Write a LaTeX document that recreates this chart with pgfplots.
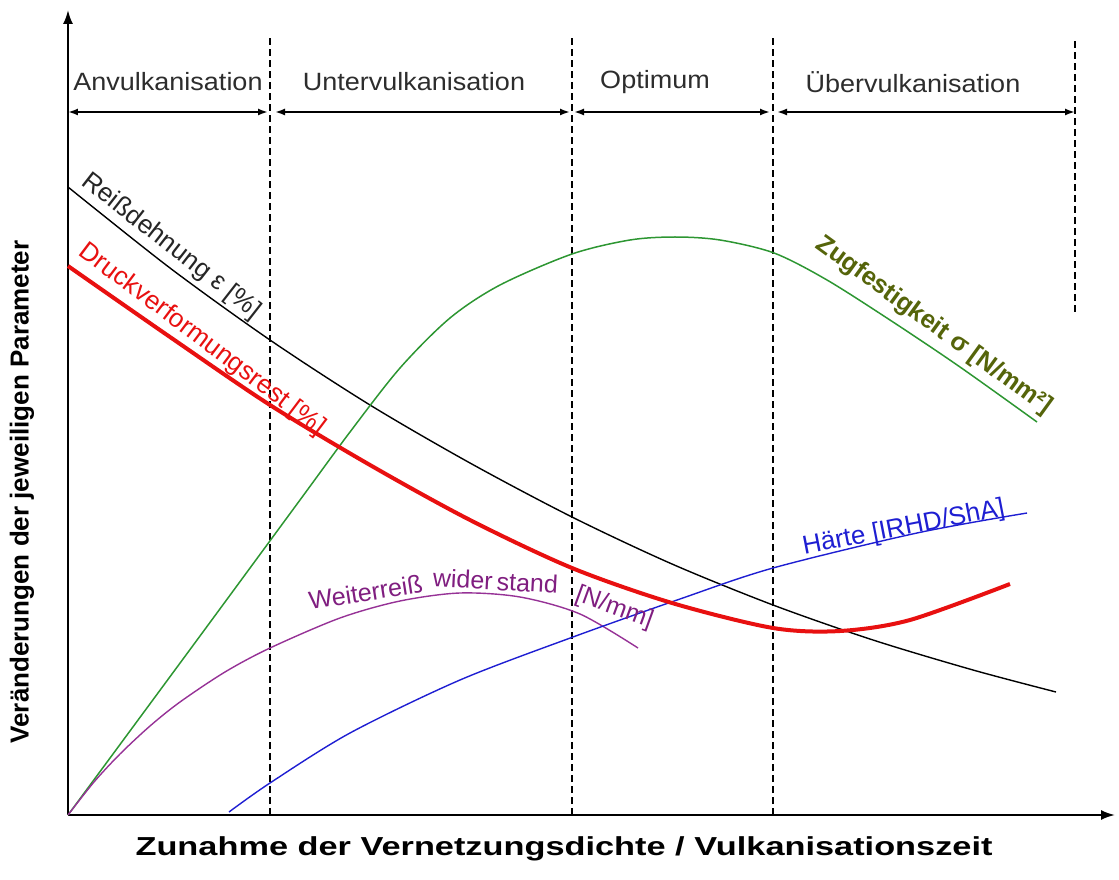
\documentclass[border=0pt]{standalone}
\usepackage{graphicx}
\usepackage{fontspec}
\setmainfont{Liberation Sans}
\usepackage{pgfplots}
\pgfplotsset{compat=1.18}
\usetikzlibrary{arrows.meta}
\definecolor{cred}{RGB}{232,16,16}
\definecolor{cgreen}{RGB}{45,150,50}
\definecolor{cpurple}{RGB}{150,50,150}
\definecolor{cpurpletxt}{RGB}{128,30,128}
\definecolor{cblue}{RGB}{30,30,210}
\definecolor{colive}{RGB}{85,100,10}
\definecolor{cgray}{RGB}{45,45,45}
\begin{document}
\begin{tikzpicture}
\begin{axis}[
  x=0.5pt, y=0.5pt,
  xmin=0, xmax=1047, ymin=0, ymax=805,
  axis lines=left,
  axis line style={line width=1pt, -{Latex[length=7pt,width=5pt]}},
  xtick=\empty, ytick=\empty,
  clip=false,
]
% region separators
\addplot[black, line width=0.8pt, dash pattern=on 3.5pt off 2pt] coordinates {(202,0) (202,780)};
\addplot[black, line width=0.8pt, dash pattern=on 3.5pt off 2pt] coordinates {(504,0) (504,777)};
\addplot[black, line width=0.8pt, dash pattern=on 3.5pt off 2pt] coordinates {(705,0) (705,777)};
\addplot[black, line width=0.8pt, dash pattern=on 3.5pt off 2pt] coordinates {(1007,503) (1007,775)};
% region arrows
\addplot[black, line width=0.9pt, {Latex[length=5pt,width=3.5pt]}-{Latex[length=5pt,width=3.5pt]}] coordinates {(0,703) (200,703)};
\addplot[black, line width=0.9pt, {Latex[length=5pt,width=3.5pt]}-{Latex[length=5pt,width=3.5pt]}] coordinates {(207,703) (502,703)};
\addplot[black, line width=0.9pt, {Latex[length=5pt,width=3.5pt]}-{Latex[length=5pt,width=3.5pt]}] coordinates {(506,703) (702,703)};
\addplot[black, line width=0.9pt, {Latex[length=5pt,width=3.5pt]}-{Latex[length=5pt,width=3.5pt]}] coordinates {(709,703) (1007,703)};
% Reissdehnung (black)
\addplot[black, line width=0.7pt, smooth] coordinates {(0,628) (102,547) (202,475) (302,410) (402,352) (504,298) (604,251) (705,210) (805,175) (905,145) (988,123)};
% Zugfestigkeit (green)
\addplot[cgreen, line width=0.75pt, smooth] coordinates {(0,0) (132,179) (232,315) (282,383) (332,447) (382,497) (432,530) (504,561) (562,575) (607,578) (652,575) (706,562) (759,535) (825,493) (892,448) (969,393)};
% Weiterreisswiderstand (purple)
\addplot[cpurple, line width=0.7pt, smooth] coordinates {(0,0) (26,33) (52,61) (82,89) (112,113) (157,143) (202,167) (272,197) (332,214) (392,222) (452,218) (512,201) (570,167)};
% Haerte (blue)
\addplot[cblue, line width=0.7pt, smooth] coordinates {(161,3) (202,32) (282,82) (392,135) (505,178) (612,216) (705,247) (849,282) (959,302)};
% Druckverformungsrest (red)
\addplot[cred, line width=2pt, smooth] coordinates {(0,549) (102,478) (202,410) (302,350) (402,295) (504,247) (604,212) (705,187) (772,184) (842,195) (942,231)};
% region labels
\node[text=cgray, font=\fontsize{12.5}{14}\selectfont] at (axis cs:100,733) {\scalebox{1.08}[1]{Anvulkanisation}};
\node[text=cgray, font=\fontsize{12.5}{14}\selectfont] at (axis cs:346,733) {\scalebox{1.08}[1]{Untervulkanisation}};
\node[text=cgray, font=\fontsize{12.5}{14}\selectfont] at (axis cs:587,733) {\scalebox{1.08}[1]{Optimum}};
\node[text=cgray, font=\fontsize{12.5}{14}\selectfont] at (axis cs:845,733) {\scalebox{1.08}[1]{Übervulkanisation}};
% curve labels
\node[text=black!85, font=\fontsize{13}{15}\selectfont, rotate=-38, anchor=base] at (axis cs:99,563) {Reißdehnung ε [\%]};
\node[text=cred, font=\fontsize{13}{15}\selectfont, rotate=-37, anchor=base] at (axis cs:130,470) {Druckverformungsrest [\%]};
\node[text=colive, font=\bfseries\fontsize{12.7}{15}\selectfont, rotate=-36, anchor=base] at (axis cs:862,484) {Zugfestigkeit σ [N/mm²]};
\node[text=cblue, font=\fontsize{13}{15}\selectfont, rotate=11, anchor=base] at (axis cs:837,280) {Härte [IRHD/ShA]};
\node[text=cpurpletxt, font=\fontsize{12.5}{15}\selectfont, rotate=9, anchor=base] at (axis cs:299,214) {Weiterreiß};
\node[text=cpurpletxt, font=\fontsize{12.5}{15}\selectfont, rotate=-3, anchor=base] at (axis cs:427,225) {wider\,stand};
\node[text=cpurpletxt, font=\fontsize{12.5}{15}\selectfont, rotate=-20, anchor=base] at (axis cs:544,201) {[N/mm]};
% axis labels
\node[rotate=90, font=\bfseries\fontsize{13}{15}\selectfont] at (axis cs:-46,323) {Veränderungen der jeweiligen Parameter};
\node[font=\bfseries\fontsize{13}{15}\selectfont] at (axis cs:496,-34) {\scalebox{1.32}[1]{Zunahme der Vernetzungsdichte / Vulkanisationszeit}};
\coordinate (bl) at (axis cs:-68,-64);
\coordinate (tr) at (axis cs:1051,815);
\end{axis}
\pgfresetboundingbox
\path[use as bounding box] (bl) rectangle (tr);
\end{tikzpicture}
\end{document}
